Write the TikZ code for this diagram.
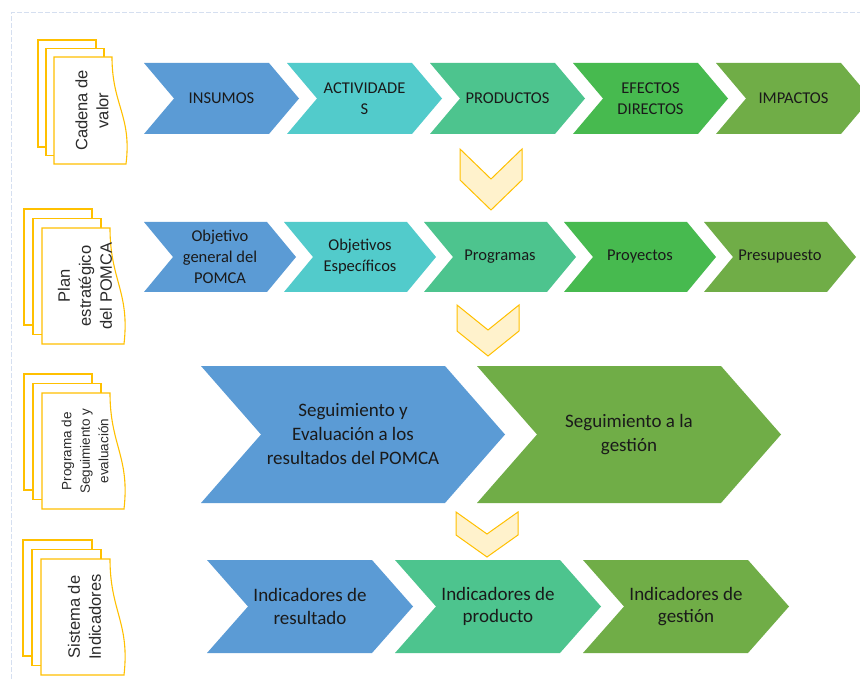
\documentclass[tikz,border=0pt]{standalone}
\usepackage{fontspec}
\setmainfont{Carlito}
\newfontfamily\docfont{Liberation Sans}
\definecolor{cblue}{HTML}{5B9BD5}
\definecolor{cteal}{HTML}{52CBCB}
\definecolor{csea}{HTML}{4DC48E}
\definecolor{cgreen}{HTML}{47BA4F}
\definecolor{colive}{HTML}{70AD47}
\definecolor{gold}{HTML}{FFC000}
\definecolor{cream}{HTML}{FFF2CC}
\definecolor{framec}{HTML}{D5DFF0}
\definecolor{txt}{HTML}{1A1A1A}
\definecolor{doctxt}{HTML}{2B2B2B}
\tikzset{
  chevtext/.style={align=center, text=txt, inner sep=0pt},
  fonta/.style={font=\fontsize{16.5}{21}\selectfont},
  fontb/.style={font=\fontsize{19}{24}\selectfont},
  fontc/.style={font=\fontsize{19}{22.5}\selectfont},
  downarrow/.style={draw=gold, fill=cream, line width=1pt, line join=miter},
  docpage/.style={draw=gold, fill=white, line width=1.1pt},
  doctext/.style={rotate=90, align=center, text=doctxt, inner sep=0pt},
  docfa/.style={font=\docfont\fontsize{16.5}{21}\selectfont},
  docfb/.style={font=\docfont\fontsize{13.5}{18.5}\selectfont},
}
% name, L, T, W, H, D, colour, font style, text
\newcommand\chevbox[9]{%
  \fill[#7] ({#2},{#3}) -- ({#2+#4-#6},{#3}) -- ({#2+#4},{#3+#5/2}) -- ({#2+#4-#6},{#3+#5}) -- ({#2},{#3+#5}) -- ({#2+#6},{#3+#5/2}) -- cycle;
  \node[chevtext,#8] (#1) at ({#2+#4/2},{#3+#5/2}) {#9};
}
% X, Y, notch depth, side height
\newcommand\downchev[4]{%
  \draw[downarrow] ({#1},{#2}) -- ({#1+31},{#2+#3}) -- ({#1+62},{#2}) -- ({#1+62},{#2+#4}) -- ({#1+31},{#2+#3+#4}) -- ({#1},{#2+#4}) -- cycle;
}
% name, L, T, R, B, dx, dy, font style, text
\newcommand\docstack[9]{%
  \draw[docpage] ({#2-2*#6},{#3-2*#7}) rectangle ({#4-2*#6},{#5-2*#7});
  \draw[docpage] ({#2-#6},{#3-#7}) rectangle ({#4-#6},{#5-#7});
  \draw[docpage] ({#2},{#3}) -- ({#4},{#3}) .. controls ({#4},{#3+0.45*(#5-#3)}) and ({#4+20},{#3+0.55*(#5-#3)}) .. ({#4+14},{#5}) -- ({#2},{#5}) -- cycle;
  \node[doctext,#8] (#1) at ({(#2+#4+14)/2+2},{(#3+#5)/2}) {#9};
}
\begin{document}
\begin{tikzpicture}[x=1pt,y=-1pt]
\useasboundingbox[fill=white] (0,0) rectangle (860,679);
\draw[framec, line width=1pt, dash pattern=on 5pt off 2pt] (11,679) -- (11,13) -- (860,13);

% row 1
\docstack{d1}{54}{57}{112}{164}{8}{8.5}{docfa}{Cadena de\\valor}
\chevbox{c11}{144}{63}{155}{71}{30}{cblue}{fonta}{INSUMOS}
\chevbox{c12}{287}{63}{155}{71}{30}{cteal}{fonta}{ACTIVIDADE\\S}
\chevbox{c13}{430}{63}{155}{71}{30}{csea}{fonta}{PRODUCTOS}
\chevbox{c14}{573}{63}{155}{71}{30}{cgreen}{fonta}{EFECTOS\\DIRECTOS}
\chevbox{c15}{716}{63}{155}{71}{30}{colive}{fonta}{IMPACTOS}
\downchev{460}{149}{30}{31}

% row 2
\docstack{d2}{42}{228}{110}{344}{9}{9.5}{docfa}{Plan\\estratégico\\del POMCA}
\chevbox{c21}{144}{222}{152}{70}{29}{cblue}{fonta}{Objetivo\\general del\\POMCA}
\chevbox{c22}{284}{222}{152}{70}{29}{cteal}{fonta}{Objetivos\\Específicos}
\chevbox{c23}{424}{222}{152}{70}{29}{csea}{fonta}{Programas}
\chevbox{c24}{564}{222}{152}{70}{29}{cgreen}{fonta}{Proyectos}
\chevbox{c25}{704}{222}{152}{70}{29}{colive}{fonta}{Presupuesto}
\downchev{457}{305}{25}{26}

% row 3
\docstack{d3}{42}{393}{110}{509}{9}{9.5}{docfb}{Programa de\\Seguimiento y\\evaluación}
\chevbox{c31}{201}{366}{304}{137}{60}{cblue}{fontb}{Seguimiento y\\Evaluación a los\\resultados del POMCA}
\chevbox{c32}{477}{366}{304}{137}{60}{colive}{fontb}{Seguimiento a la\\gestión}
\downchev{456}{512}{22}{23}

% row 4
\docstack{d4}{41}{559}{110}{675}{9}{9.5}{docfa}{Sistema de\\Indicadores}
\chevbox{c41}{207}{560}{206}{93}{41}{cblue}{fontc}{Indicadores de\\resultado}
\chevbox{c42}{395}{560}{206}{93}{41}{csea}{fontc}{Indicadores de\\producto}
\chevbox{c43}{583}{560}{206}{93}{41}{colive}{fontc}{Indicadores de\\gestión}
\end{tikzpicture}
\end{document}
